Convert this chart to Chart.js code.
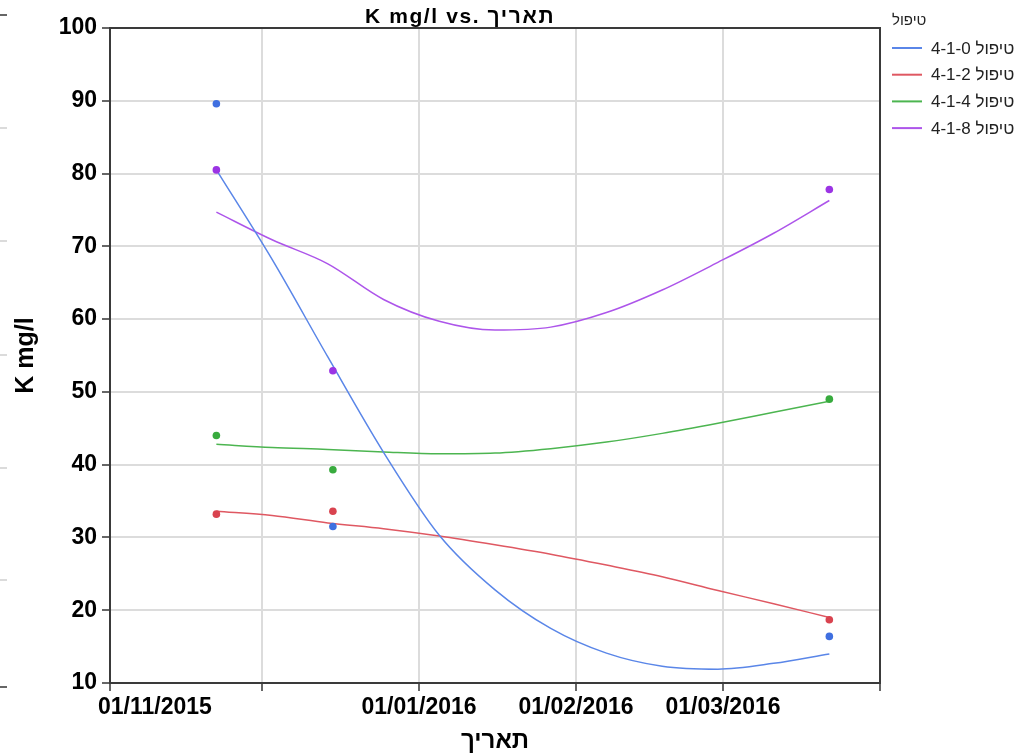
<!DOCTYPE html>
<html>
<head>
<meta charset="utf-8">
<script src="https://cdn.jsdelivr.net/npm/chart.js@4/dist/chart.umd.min.js"></script>
<style>
  html, body { margin: 0; padding: 0; background: #fff; }
  #wrap { width: 1023px; height: 756px; }
</style>
</head>
<body>
<div id="wrap"><canvas id="chart" width="1023" height="756"></canvas></div>
<script>
// Measured potassium (K mg/l) per treatment on each sampling date
const sampleDates = ['2015-11-22', '2015-12-15', '2016-03-22'];
const k410 = [89.6, 31.5, 16.4];
const k412 = [33.2, 33.6, 18.7];
const k414 = [44.0, 39.3, 49.0];
const k418 = [80.5, 52.9, 77.8];

// Smoothed trend curve for each treatment, evaluated on a common date grid
const fitDates = ['2015-11-22', '2015-12-03', '2015-12-14', '2015-12-25', '2016-01-05', '2016-01-16', '2016-01-27', '2016-02-07', '2016-02-18', '2016-02-29', '2016-03-11', '2016-03-22'];
const fit410 = [80.5, 68.2, 54.8, 41.7, 30.3, 22.8, 17.5, 14.1, 12.3, 11.9, 12.7, 14.0];
const fit412 = [33.6, 33.0, 32.0, 31.2, 30.2, 29.0, 27.7, 26.2, 24.6, 22.7, 20.9, 19.0];
const fit414 = [42.8, 42.35, 42.1, 41.75, 41.5, 41.6, 42.2, 43.1, 44.3, 45.7, 47.2, 48.7];
const fit418 = [74.7, 70.9, 67.6, 62.7, 59.7, 58.5, 58.9, 60.9, 64.0, 67.8, 71.8, 76.3];

const seriesNames = ['טיפול 4-1-0', 'טיפול 4-1-2', 'טיפול 4-1-4', 'טיפול 4-1-8'];
const pointColors = ['#3f6fe0', '#d9434f', '#38ab3e', '#9b34e4'];
const lineColors = ['#5a86e8', '#df5862', '#4cb550', '#ad55ea'];

// Date axis ticks
const tickDates = ['2015-11-01', '2015-12-01', '2016-01-01', '2016-02-01', '2016-03-01', '2016-04-01'];
const tickLabels = ['01/11/2015', '', '01/01/2016', '01/02/2016', '01/03/2016', ''];

const FONT = "'Liberation Sans', Arial, sans-serif";
const DAY_MS = 86400000;
const ORIGIN = Date.UTC(2015, 10, 1);
const dayOf = s => (Date.parse(s + 'T00:00:00Z') - ORIGIN) / DAY_MS;
const toPoints = (dates, vals) => dates.map((d, i) => ({ x: dayOf(d), y: vals[i] }));
const tickDays = tickDates.map(dayOf);

const allFits = [fit410, fit412, fit414, fit418];
const allSamples = [k410, k412, k414, k418];

const datasets = [];
allFits.forEach((vals, i) => {
  datasets.push({
    label: seriesNames[i],
    data: toPoints(fitDates, vals),
    borderColor: lineColors[i],
    backgroundColor: lineColors[i],
    borderWidth: 1.5,
    pointRadius: 0,
    pointHoverRadius: 0,
    cubicInterpolationMode: 'monotone',
    fill: false,
    order: 2
  });
});
allSamples.forEach((vals, i) => {
  datasets.push({
    data: toPoints(sampleDates, vals),
    showLine: false,
    pointRadius: 3.8,
    pointBorderWidth: 0,
    pointBackgroundColor: pointColors[i],
    borderColor: pointColors[i],
    order: 1
  });
});

// Frame around the plot, chart heading, first date label and legend
const decorations = {
  id: 'decorations',
  afterDraw(chart) {
    const { ctx, chartArea: a } = chart;
    ctx.save();

    // plot frame
    ctx.strokeStyle = '#3a3a3a';
    ctx.lineWidth = 2;
    ctx.strokeRect(a.left, a.top, a.right - a.left, a.bottom - a.top);

    // small marks along the left edge
    const marks = [[15, '#333'], [128, '#cfcfcf'], [241, '#cfcfcf'], [355, '#cfcfcf'], [468, '#cfcfcf'], [580, '#cfcfcf'], [687, '#333']];
    ctx.lineWidth = 1.5;
    marks.forEach(([y, c]) => {
      ctx.strokeStyle = c;
      ctx.beginPath(); ctx.moveTo(0, y); ctx.lineTo(7, y); ctx.stroke();
    });

    // heading
    ctx.fillStyle = '#000';
    ctx.font = 'bold 21px ' + FONT;
    if ('letterSpacing' in ctx) ctx.letterSpacing = '1.6px';
    ctx.textAlign = 'center';
    ctx.textBaseline = 'alphabetic';
    ctx.fillText('K mg/l vs. תאריך', 460, 23);
    if ('letterSpacing' in ctx) ctx.letterSpacing = '0px';

    // first date label sits to the right of its tick
    const xs = chart.scales.x;
    const tOpts = xs.options.ticks;
    const lh = 23 * 1.2;
    ctx.font = 'bold 23px ' + FONT;
    ctx.textAlign = 'left';
    ctx.textBaseline = 'middle';
    ctx.fillText(tickLabels[0], xs.getPixelForValue(tickDays[0]) - 12, xs.top + xs.options.grid.tickLength + tOpts.padding + lh / 2);

    // legend
    const lx = a.right + 12;
    ctx.font = '15px ' + FONT;
    ctx.fillStyle = '#222';
    ctx.textAlign = 'left';
    ctx.direction = 'rtl';
    ctx.fillText('טיפול', lx, 21);
    ctx.font = '17px ' + FONT;
    chart.data.datasets.filter(d => d.label).forEach((d, i) => {
      const y = 48 + i * 26.7;
      ctx.strokeStyle = d.borderColor;
      ctx.lineWidth = 2;
      ctx.beginPath(); ctx.moveTo(lx, y); ctx.lineTo(lx + 30, y); ctx.stroke();
      ctx.fillStyle = '#222';
      ctx.fillText(d.label, lx + 39, y + 1);
    });
    ctx.restore();
  }
};

new Chart(document.getElementById('chart'), {
  type: 'line',
  data: { datasets },
  plugins: [decorations],
  options: {
    responsive: false,
    animation: false,
    devicePixelRatio: 1,
    layout: { padding: { top: 28, right: 143, left: 0, bottom: 0 } },
    plugins: {
      legend: { display: false },
      title: { display: false },
      tooltip: { enabled: false }
    },
    scales: {
      x: {
        type: 'linear',
        min: tickDays[0],
        max: tickDays[tickDays.length - 1],
        afterBuildTicks(scale) { scale.ticks = tickDays.map(v => ({ value: v })); },
        afterFit(scale) { scale.height = 73; },
        grid: { color: '#dcdcdc', lineWidth: 2, tickColor: '#333', tickWidth: 1.5, tickLength: 8 },
        border: { color: '#333', width: 2 },
        ticks: {
          autoSkip: false,
          maxRotation: 0,
          padding: 3,
          color: '#000',
          font: { family: FONT, size: 23, weight: 'bold' },
          callback: (v, i) => (i === 0 ? '' : tickLabels[i])
        },
        title: {
          display: true,
          text: 'תאריך',
          color: '#000',
          font: { family: FONT, size: 24, weight: 'bold' },
          padding: { top: 0, bottom: 0 }
        }
      },
      y: {
        min: 10,
        max: 100,
        afterFit(scale) { scale.width = 110; },
        grid: { color: '#dcdcdc', lineWidth: 2, tickColor: '#333', tickWidth: 1.5, tickLength: 8 },
        border: { color: '#333', width: 2 },
        ticks: {
          stepSize: 10,
          padding: 5,
          color: '#000',
          font: { family: FONT, size: 23, weight: 'bold' }
        },
        title: {
          display: true,
          text: 'K mg/l',
          color: '#000',
          font: { family: FONT, size: 25, weight: 'bold' },
          padding: { top: 11, bottom: 0 }
        }
      }
    }
  }
});
</script>
</body>
</html>
